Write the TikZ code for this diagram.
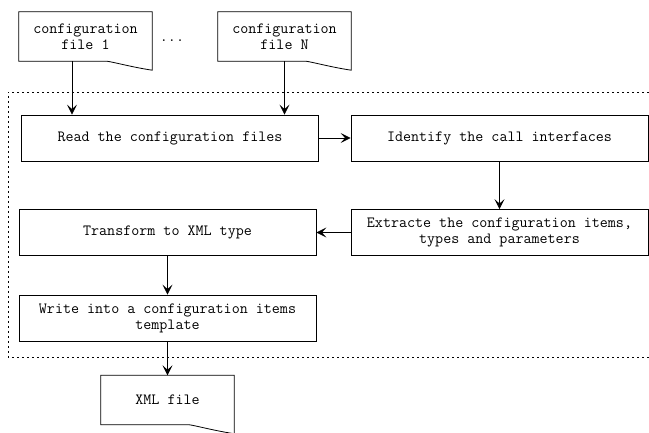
\documentclass[tikz,border=0pt]{standalone}
\usepackage{fontspec}
\usepackage{tikz}
\usetikzlibrary{arrows.meta, calc}

\tikzset{
    procbox/.style={draw, line width=0.8pt, minimum width=297pt, minimum height=46pt,
        inner sep=0pt, align=center, font=\ttfamily\fontsize{15.6}{16}\selectfont},
    docnode/.style={minimum width=133pt, minimum height=49pt, inner sep=0pt,
        align=center, font=\ttfamily\fontsize{15.6}{16}\selectfont},
    arr/.style={line width=0.8pt, -{Stealth[length=10pt, width=10pt, inset=4.5pt]}},
    frame/.style={line width=0.8pt, dash pattern=on 2pt off 3pt}
}

% outline of a document (wavy bottom edge)
\newcommand{\docoutline}[1]{%
    \draw[line width=0.8pt] (#1.south west) -- (#1.north west) -- (#1.north east)
        -- ([yshift=-9pt]#1.south east)
        .. controls ([xshift=-20pt, yshift=-6pt]#1.south east)
        and ([xshift=-38pt, yshift=-1pt]#1.south east)
        .. ($(#1.south west)!0.66!(#1.south east)$) -- cycle;}

\begin{document}
\begin{tikzpicture}[x=1pt, y=-1pt]
    \useasboundingbox (0,0) rectangle (649,433);

    % Input files
    \node[docnode] (cfg1) at (85.5,36.5) {configuration\\file 1};
    \node[docnode] (cfgN) at (284.5,36.5) {configuration\\file N};
    \node[anchor=base, font=\ttfamily\fontsize{15.6}{16}\selectfont] (dots) at (172,42) {...};
    \docoutline{cfg1}
    \docoutline{cfgN}

    % Processing steps
    \node[procbox] (read)  at (170,138)     {Read the configuration files};
    \node[procbox] (ident) at (499.5,138)   {Identify the call interfaces};
    \node[procbox] (extr)  at (499.5,232.5) {Extracte the configuration items,\\types and parameters};
    \node[procbox] (trans) at (167.5,232.5) {Transform to XML type};
    \node[procbox] (write) at (167.5,318)   {Write into a configuration items\\template};

    % Output file
    \node[docnode] (xml) at (167.5,400) {XML file};
    \docoutline{xml}

    % Dotted frame
    \draw[frame] (649,92) -- (8,92) -- (8,357) -- (649,357);

    % Connections
    \draw[arr] ([xshift=-13.5pt]cfg1.south) -- ([xshift=-13.5pt]cfg1.south |- read.north);
    \draw[arr] (cfgN.south) -- (cfgN.south |- read.north);
    \draw[arr] (read.east) -- (ident.west);
    \draw[arr] (ident.south) -- (extr.north);
    \draw[arr] (extr.west) -- (trans.east);
    \draw[arr] (trans.south) -- (write.north);
    \draw[arr] (write.south) -- (xml.north);
\end{tikzpicture}
\end{document}
